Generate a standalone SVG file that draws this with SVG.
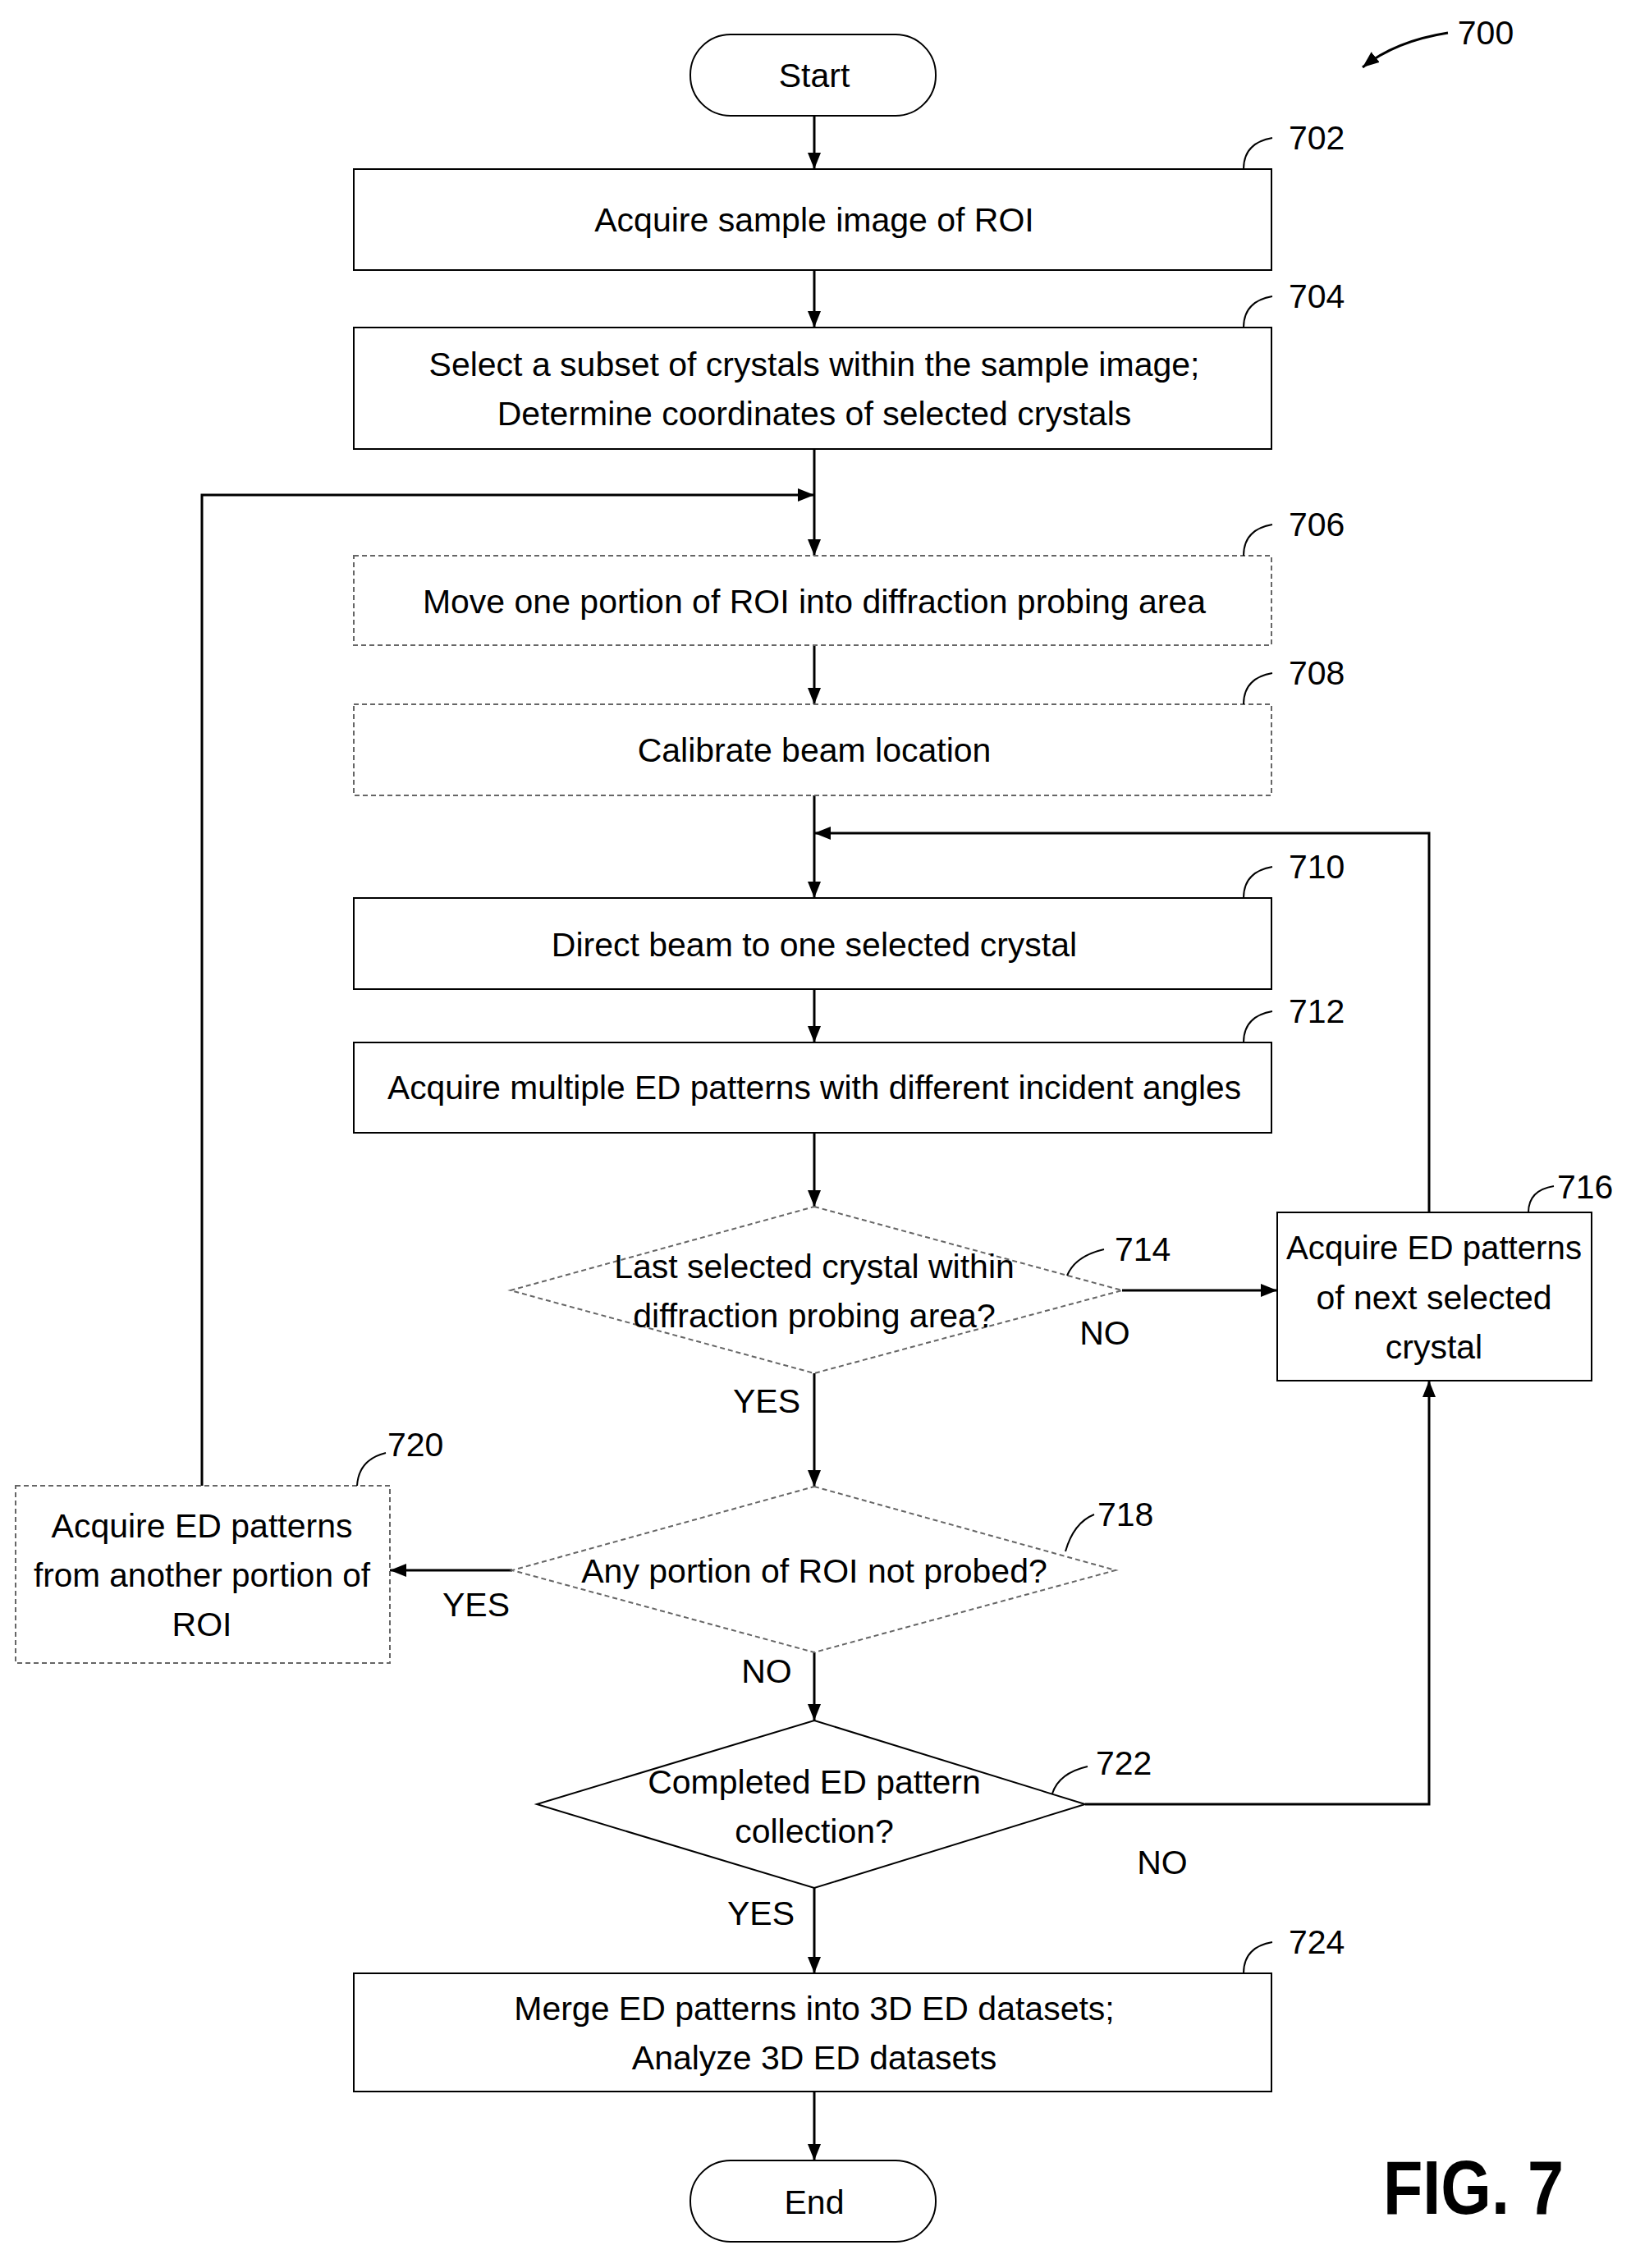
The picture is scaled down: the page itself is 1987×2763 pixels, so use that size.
<svg xmlns="http://www.w3.org/2000/svg" width="1987" height="2763" viewBox="0 0 1987 2763">
<style>
text{font-family:"Liberation Sans Narrow","Liberation Sans",Arial,sans-serif;font-size:41px;fill:#000;text-anchor:middle}
.lbl{text-anchor:start}
.box{fill:#fff;stroke:#000;stroke-width:2}
.dash{fill:#fff;stroke:#666;stroke-width:2;stroke-dasharray:6 4}
.ln{fill:none;stroke:#000;stroke-width:3}
.hook{fill:none;stroke:#000;stroke-width:2}
</style>
<defs>
<marker id="a" viewBox="0 0 20 16" refX="20" refY="8" markerWidth="20" markerHeight="16" orient="auto" markerUnits="userSpaceOnUse"><path d="M0,0 L20,8 L0,16 z" fill="#000"/></marker>
</defs>
<g id="connectors">
<line class="ln" x1="992" y1="141" x2="992" y2="206" marker-end="url(#a)"/>
<line class="ln" x1="992" y1="329" x2="992" y2="399" marker-end="url(#a)"/>
<line class="ln" x1="992" y1="547" x2="992" y2="677" marker-end="url(#a)"/>
<polyline class="ln" points="246,1810 246,603 992,603" marker-end="url(#a)"/>
<line class="ln" x1="992" y1="786" x2="992" y2="858" marker-end="url(#a)"/>
<line class="ln" x1="992" y1="969" x2="992" y2="1094" marker-end="url(#a)"/>
<polyline class="ln" points="1741,1477 1741,1015 992,1015" marker-end="url(#a)"/>
<line class="ln" x1="992" y1="1205" x2="992" y2="1270" marker-end="url(#a)"/>
<line class="ln" x1="992" y1="1380" x2="992" y2="1470" marker-end="url(#a)"/>
<line class="ln" x1="1367" y1="1572" x2="1556" y2="1572" marker-end="url(#a)"/>
<line class="ln" x1="992" y1="1673" x2="992" y2="1811" marker-end="url(#a)"/>
<line class="ln" x1="624" y1="1913" x2="475" y2="1913" marker-end="url(#a)"/>
<line class="ln" x1="992" y1="2013" x2="992" y2="2096" marker-end="url(#a)"/>
<polyline class="ln" points="1322,2198 1741,2198 1741,1682" marker-end="url(#a)"/>
<line class="ln" x1="992" y1="2300" x2="992" y2="2404" marker-end="url(#a)"/>
<line class="ln" x1="992" y1="2548" x2="992" y2="2632" marker-end="url(#a)"/>
<path class="ln" d="M1764,40 Q1700,50 1660,82" marker-end="url(#a)"/>
<text x="1810" y="54">700</text>
</g>
<g id="start"><rect class="box" x="841" y="42" width="299" height="99" rx="49"/><text x="992" y="106">Start</text></g>
<g id="n702"><rect class="box" x="431" y="206" width="1118" height="123"/><text x="992" y="282">Acquire sample image of ROI</text><path class="hook" d="M1515,206 Q1515,174 1550,168"/><text class="lbl" x="1570" y="182">702</text></g>
<g id="n704"><rect class="box" x="431" y="399" width="1118" height="148"/><text x="992" y="458">Select a subset of crystals within the sample image;</text><text x="992" y="518">Determine coordinates of selected crystals</text><path class="hook" d="M1515,399 Q1515,367 1550,361"/><text class="lbl" x="1570" y="375">704</text></g>
<g id="n706"><rect class="dash" x="431" y="677" width="1118" height="109"/><text x="992" y="747">Move one portion of ROI into diffraction probing area</text><path class="hook" d="M1515,677 Q1515,645 1550,639"/><text class="lbl" x="1570" y="653">706</text></g>
<g id="n708"><rect class="dash" x="431" y="858" width="1118" height="111"/><text x="992" y="928">Calibrate beam location</text><path class="hook" d="M1515,858 Q1515,826 1550,820"/><text class="lbl" x="1570" y="834">708</text></g>
<g id="n710"><rect class="box" x="431" y="1094" width="1118" height="111"/><text x="992" y="1165">Direct beam to one selected crystal</text><path class="hook" d="M1515,1094 Q1515,1062 1550,1056"/><text class="lbl" x="1570" y="1070">710</text></g>
<g id="n712"><rect class="box" x="431" y="1270" width="1118" height="110"/><text x="992" y="1339" textLength="1040" lengthAdjust="spacingAndGlyphs">Acquire multiple ED patterns with different incident angles</text><path class="hook" d="M1515,1270 Q1515,1238 1550,1232"/><text class="lbl" x="1570" y="1246">712</text></g>
<g id="n714"><polygon class="dash" points="992,1470 1367,1572 992,1673 622,1572"/><text x="992" y="1557">Last selected crystal within</text><text x="992" y="1617">diffraction probing area?</text><path class="hook" d="M1300,1554 Q1310,1530 1345,1522"/><text class="lbl" x="1358" y="1536">714</text><text x="1346" y="1638">NO</text></g>
<g id="n716"><rect class="box" x="1556" y="1477" width="383" height="205"/><text x="1747" y="1534" textLength="360" lengthAdjust="spacingAndGlyphs">Acquire ED patterns</text><text x="1747" y="1595">of next selected</text><text x="1747" y="1655">crystal</text><path class="hook" d="M1862,1477 Q1862,1450 1893,1445"/><text class="lbl" x="1897" y="1460">716</text></g>
<g id="n718"><polygon class="dash" points="992,1811 1359,1913 992,2013 624,1913"/><text x="992" y="1928">Any portion of ROI not probed?</text><path class="hook" d="M1298,1890 Q1308,1855 1333,1845"/><text class="lbl" x="1337" y="1859">718</text><text x="934" y="1721">YES</text><text x="580" y="1969">YES</text><text x="934" y="2050">NO</text></g>
<g id="n720"><rect class="dash" x="19" y="1810" width="456" height="216"/><text x="246" y="1873">Acquire ED patterns</text><text x="246" y="1933" textLength="410" lengthAdjust="spacingAndGlyphs">from another portion of</text><text x="246" y="1993">ROI</text><path class="hook" d="M435,1810 Q437,1778 470,1770"/><text class="lbl" x="472" y="1774">720</text></g>
<g id="n722"><polygon class="box" points="992,2096 1322,2198 992,2300 654,2198"/><text x="992" y="2185">Completed ED pattern</text><text x="992" y="2245">collection?</text><path class="hook" d="M1282,2185 Q1290,2160 1325,2152"/><text class="lbl" x="1335" y="2162">722</text><text x="1416" y="2283">NO</text><text x="927" y="2345">YES</text></g>
<g id="n724"><rect class="box" x="431" y="2404" width="1118" height="144"/><text x="992" y="2461">Merge ED patterns into 3D ED datasets;</text><text x="992" y="2521">Analyze 3D ED datasets</text><path class="hook" d="M1515,2404 Q1515,2372 1550,2366"/><text class="lbl" x="1570" y="2380">724</text></g>
<g id="end"><rect class="box" x="841" y="2632" width="299" height="99" rx="49"/><text x="992" y="2697">End</text></g>
<text x="1795" y="2697" style="font-size:92px;font-weight:bold" textLength="220" lengthAdjust="spacingAndGlyphs">FIG. 7</text>
</svg>
